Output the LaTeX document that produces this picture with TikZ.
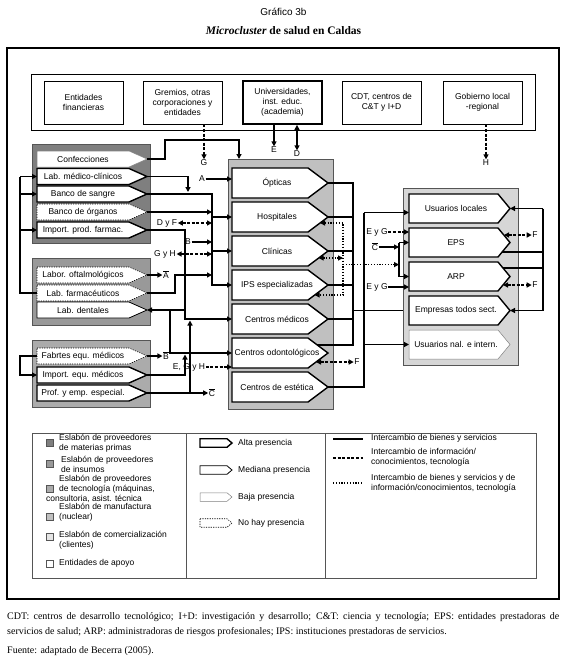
\documentclass[tikz,border=0pt]{standalone}
\usepackage{fontspec}
\setmainfont{Liberation Serif}
\newfontfamily\arial{Liberation Sans}
\usetikzlibrary{arrows.meta,calc}
\definecolor{prima}{HTML}{7F7F7F}
\definecolor{insumo}{HTML}{999999}
\definecolor{tecno}{HTML}{ABABAB}
\definecolor{nuclear}{HTML}{C0C0C0}
\definecolor{comer}{HTML}{D6D6D6}
\definecolor{clara}{HTML}{E4E4E4}
\definecolor{borde}{HTML}{555555}
\tikzset{
  alta/.style={draw=black, fill=white, line width=1.4pt},
  mediana/.style={draw=black, fill=white, line width=0.8pt},
  baja/.style={draw=gray, fill=white, line width=0.5pt},
  nohay/.style={draw=black, fill=white, line width=0.6pt, dash pattern=on 1.2pt off 1.2pt},
  boxtxt/.style={font=\arial\fontsize{8.5}{9.8}\selectfont, inner sep=0pt, align=center},
  lab/.style={font=\arial\fontsize{8.5}{9.8}\selectfont, inner sep=0.5pt},
  grp/.style={draw=borde, line width=0.6pt, anchor=north west, inner sep=0pt, outer sep=0pt},
  apoyo/.style={draw=black, line width=0.6pt, minimum width=79, minimum height=43, boxtxt},
  enlace/.style={line width=1.3pt},
  flow/.style={line width=1.3pt, -{Triangle[length=5pt,width=5pt]}},
  info/.style={line width=1.3pt, dash pattern=on 3pt off 1.6pt},
  mix/.style={line width=1.2pt, dash pattern=on 1.2pt off 1.6pt},
  etip/.style={-{Triangle[length=5pt,width=5pt]}},
  dtip/.style={{Triangle[length=5pt,width=5pt]}-{Triangle[length=5pt,width=5pt]}},
  leyenda/.style={font=\arial\fontsize{8.5}{9.8}\selectfont, anchor=west, align=left, inner sep=0pt},
  cuadro/.style={draw=borde, line width=0.4pt, minimum size=7, inner sep=0pt}
}
% style, name, x, y, width, height, tip, text shift, text
\newcommand{\Eslabon}[9]{%
  \draw[#1] (#3,#4) -- ++(#5-#7,0) -- ++(#7,#6/2) -- ++(-#7,#6/2) -- ++(#7-#5,0) -- cycle;
  \node[inner sep=0pt, outer sep=0pt, minimum width=#5-#7, minimum height=#6] (#2) at (#3+#5/2-#7/2,#4+#6/2) {};
  \node[boxtxt] (#2-txt) at ($(#2)+(#8,0)$) {#9};
  \coordinate (#2-tip) at (#3+#5,#4+#6/2);
}
\newcommand{\barra}[1]{$\overline{\mbox{#1}}$}

\begin{document}
\begin{tikzpicture}[x=1pt,y=-1pt]
  \useasboundingbox (0,0) rectangle (567,661);

  \node[font=\arial\fontsize{10}{12}\selectfont] (titulo) at (283.5,12) {Gráfico 3b};
  \node[font=\bfseries\fontsize{11.5}{13}\selectfont] (subtitulo) at (283.5,31) {\textit{Microcluster} de salud en Caldas};
  \draw[line width=1.3pt] (7,48) rectangle (559,599);

  % entidades de apoyo
  \node[grp, draw=black, minimum width=504, minimum height=56] (apoyo) at (31,74) {};
  \node[apoyo] (finan) at (83.5,102.5) {Entidades\\financieras};
  \node[apoyo] (gremios) at (182.5,102.5) {Gremios, otras\\corporaciones y\\entidades};
  \node[apoyo, line width=1.8pt] (univ) at (282.5,102.5) {Universidades,\\inst. educ.\\(academia)};
  \node[apoyo] (cdt) at (381.5,102.5) {CDT, centros de\\C\&T y I+D};
  \node[apoyo] (gob) at (482.5,102.5) {Gobierno local\\-regional};

  % eslabones
  \node[grp, fill=prima, minimum width=118, minimum height=99] (prov1) at (32,144) {};
  \node[grp, fill=insumo, minimum width=118, minimum height=67] (prov2) at (32,258) {};
  \node[grp, fill=tecno, minimum width=118, minimum height=67] (prov3) at (32,340) {};
  \node[grp, fill=nuclear, minimum width=105, minimum height=250] (nucleo) at (228,159) {};
  \node[grp, fill=comer, minimum width=115, minimum height=177] (clientes) at (403,188) {};

  \Eslabon{baja}{conf}{37}{151}{110}{16}{18}{0}{Confecciones}
  \Eslabon{alta}{lmc}{37}{168.5}{110}{16}{18}{0}{Lab. médico-clínicos}
  \Eslabon{alta}{bsan}{37}{186}{110}{16}{18}{0}{Banco de sangre}
  \Eslabon{nohay}{borg}{37}{204}{110}{16}{18}{0}{Banco de órganos}
  \Eslabon{alta}{ipf}{37}{222}{110}{16}{18}{0}{Import. prod. farmac.}
  \Eslabon{nohay}{loft}{37}{267}{110}{16}{18}{0}{Labor. oftalmológicos}
  \Eslabon{nohay}{lfar}{37}{285}{110}{16}{18}{0}{Lab. farmacéuticos}
  \Eslabon{mediana}{ldent}{37}{302}{110}{16}{18}{0}{Lab. dentales}
  \Eslabon{nohay}{fab}{37}{348}{110}{16}{18}{0}{Fabrtes equ. médicos}
  \Eslabon{alta}{iem}{37}{367}{110}{16}{18}{0}{Import. equ. médicos}
  \Eslabon{alta}{prof}{37}{385}{110}{16}{18}{0}{Prof. y emp. especial.}

  \Eslabon{alta}{opt}{232}{168}{96}{30}{20}{7}{Ópticas}
  \Eslabon{alta}{hosp}{232}{202}{96}{30}{20}{7}{Hospitales}
  \Eslabon{alta}{clin}{232}{236}{96}{30}{20}{7}{Clínicas}
  \Eslabon{alta}{ips}{232}{270}{96}{30}{20}{7}{IPS especializadas}
  \Eslabon{alta}{cmed}{232}{304}{96}{30}{20}{7}{Centros médicos}
  \Eslabon{alta}{odont}{232}{338}{96}{30}{20}{7}{Centros odontológicos}
  \Eslabon{alta}{est}{232}{372}{96}{30}{20}{7}{Centros de estética}

  \Eslabon{alta}{uloc}{409}{194}{101}{29}{12}{2.5}{Usuarios locales}
  \Eslabon{alta}{eps}{409}{228}{101}{29}{12}{2.5}{EPS}
  \Eslabon{alta}{arp}{409}{262}{101}{29}{12}{2.5}{ARP}
  \Eslabon{alta}{emp}{409}{296}{101}{29}{12}{2.5}{Empresas todos sect.}
  \Eslabon{baja}{unal}{409}{330}{101}{29}{12}{2.5}{Usuarios nal. e intern.}

  % vertical runs
  \coordinate (xL) at (20,0);
  \coordinate (xD) at (170,0);
  \coordinate (xF) at (175,0);
  \coordinate (xP) at (185,0);
  \coordinate (xE) at (190,0);
  \coordinate (xS) at (212,0);
  \coordinate (xO) at (343,0);
  \coordinate (xM) at (353,0);
  \coordinate (xT) at (364,0);
  \coordinate (xK) at (399,0);
  \coordinate (xR) at (543,0);

  % arriba
  \node[lab] (G) at (204,163) {G};
  \node[lab] (E) at (274,150) {E};
  \node[lab] (D) at (297,154) {D};
  \node[lab] (H) at (486,163) {H};
  \draw[info,etip] (gremios.south -| G.north) -- (G.north);
  \draw[flow] (univ.south -| E.north) -- (E.north);
  \draw[enlace,dtip] (univ.south -| D.north) -- (D.north);
  \draw[info,etip] (gob.south -| H.north) -- (H.north);

  % proveedores
  \coordinate (cin) at (239,140);
  \draw[flow] (conf-tip) -- ++(18,0) |- (cin) -- (cin |- nucleo.north);
  \coordinate (j1) at (188,192);
  \draw[flow] (lmc-tip) -| (j1);
  \node[lab] (A) at (202,179) {A};
  \draw[flow] (A.east) -- (opt.west |- A.east);
  \draw[flow] (bsan-tip) -| (xS |- ips.west) -- (ips.west);
  \draw[flow] (xS |- hosp.west) -- (hosp.west);
  \draw[flow] (xS |- clin.west) -- (clin.west);
  \draw[flow] (borg-tip) -- (xS |- borg-tip);
  \node[lab] (DyF) at (167,223) {D y F};
  \draw[info,dtip] (DyF.east) -- (xS |- DyF.east);
  \node[lab] (B) at (188,242) {B};
  \draw[flow] (B.east) -- (xS |- B.east);
  \node[lab] (GyH) at (165,254) {G y H};
  \draw[info,dtip] (GyH.east) -- (xS |- GyH.east);
  \draw[flow] (ipf-tip) -| (xP |- cmed.west) -- (cmed.west);

  \node[lab] (Abar) at (166,275) {\barra{A}};
  \draw[flow] (loft-tip) -- (Abar.west);
  \draw[flow] (lfar-tip) -| (xF |- loft-tip) -- (xS |- loft-tip);
  \draw[enlace] (lfar.west) -| (xL |- lmc.west);
  \foreach \n in {lmc,bsan,ipf} \draw[flow] (xL |- \n.west) -- (\n.west);
  \draw[flow] (xP |- ldent-tip) -- (ldent-tip);
  \draw[flow] (xD |- ldent-tip) |- (odont.west);

  \node[lab] (Bbar) at (166,356) {\barra{B}};
  \draw[flow] (fab-tip) -- (Bbar.west);
  \draw[flow] (fab.west) -- ++(-17,0) |- (iem.west);
  \coordinate (j2) at (185,354.5);
  \draw[flow] (iem-tip) -| (j2);
  \node[lab] (EGH) at (189,367) {E, G y H};
  \draw[info,etip] (EGH.east) -- (odont.west |- EGH.east);
  \node[lab] (Cbar) at (212,393) {\barra{C}};
  \draw[flow] (prof-tip) -- (Cbar.west);
  \coordinate (j3) at (190,320.5);
  \draw[flow] (xE |- prof-tip) -- (j3);

  % nucleo hacia clientes
  \coordinate (oo) at ($(odont-tip)+(-10.7,-8)$);
  \draw[enlace] (opt-tip) -| (xM |- oo) -- (oo);
  \foreach \n in {hosp,clin,ips,cmed} \draw[enlace] (\n-tip) -- (xM |- \n-tip);
  \draw[enlace] (xM |- emp.west) -- (clientes.west |- emp.west);
  \coordinate (uin) at ($(uloc.west)+(0,4)$);
  \draw[enlace] (est-tip) -| (xT |- uin);
  \draw[flow] (xT |- uin) -- (uin);
  \draw[flow] (xT |- unal.west) -- (unal.west);
  \node[lab] (F3) at (357,362) {F};
  \draw[info,dtip] ($(odont-tip)+(-12,9)$) -- (F3.west);

  \coordinate (dh) at ($(hosp-tip)+(-8,6)$);
  \coordinate (dc) at ($(clin-tip)+(-9.3,7)$);
  \coordinate (di) at ($(ips-tip)+(-13.3,10)$);
  \coordinate (dm) at ($(eps.west)!.65!(arp.west)$);
  \draw[mix,dtip] (dh) -- (xO |- dh) -- (xO |- di) -- (di);
  \draw[mix,dtip] (dc) -- (xO |- dc);
  \draw[mix,etip] (xO |- dm) -- (xK |- dm);

  % clientes
  \node[lab] (EyG1) at (377,232) {E y G};
  \draw[info,etip] (EyG1.east) -- (eps.west |- EyG1.east);
  \node[lab] (Cbar2) at (375,247) {\barra{C}};
  \draw[flow] (Cbar2.east) -- (xK |- Cbar2.east);
  \node[lab] (EyG2) at (377,287) {E y G};
  \draw[flow] (EyG2.east) -- (arp.west |- EyG2.east);
  \draw[enlace] (xK |- eps.west) -- (xK |- arp.west);
  \draw[flow] (xK |- eps.west) -- (eps.west);
  \draw[flow] (xK |- arp.west) -- (arp.west);

  \coordinate (eo) at ($(eps-tip)+(-7.9,9.5)$);
  \coordinate (ao) at ($(arp-tip)+(-7,-8.5)$);
  \draw[enlace] (eo) -- (xR |- eo);
  \draw[enlace] (ao) -- (xR |- ao);
  \draw[enlace] (xR |- uloc-tip) -- (xR |- emp-tip);
  \draw[flow] (xR |- uloc-tip) -- (uloc-tip);
  \draw[flow] (xR |- emp-tip) -- (emp-tip);
  \node[lab] (F1) at (535,235) {F};
  \draw[info,dtip] ($(eps-tip)+(-6,-7.5)$) -- (F1.west);
  \node[lab] (F2) at (535,285) {F};
  \draw[info,dtip] ($(arp-tip)+(-7,8.5)$) -- (F2.west);

  % leyenda
  \node[grp, minimum width=504, minimum height=145] (ley) at (32,433) {};
  \draw[line width=0.6pt, draw=borde] (186,433) -- (186,578);
  \draw[line width=0.6pt, draw=borde] (325,433) -- (325,578);

  \node[cuadro, fill=prima] (c1) at (49.5,443) {};
  \node[leyenda] (t1) at (59,443) {Eslabón de proveedores\\de materias primas};
  \node[cuadro, fill=insumo] (c2) at (49.5,463.5) {};
  \node[leyenda] (t2) at (61,464.5) {Eslabón de proveedores\\de insumos};
  \node[cuadro, fill=tecno] (c3) at (49.5,489) {};
  \node[leyenda] (t3a) at (59,484.5) {Eslabón de proveedores\\de tecnología (máquinas,};
  \node[leyenda] (t3b) at (46,499) {consultoria, asist. técnica};
  \node[cuadro, fill=nuclear] (c4) at (49.5,516.5) {};
  \node[leyenda] (t4) at (59,512) {Eslabón de manufactura\\(nuclear)};
  \node[cuadro, fill=clara] (c5) at (49.5,536.5) {};
  \node[leyenda] (t5) at (59,540) {Eslabón de comercialización\\(clientes)};
  \node[cuadro, fill=white] (c6) at (49.5,563.5) {};
  \node[leyenda] (t6) at (59,563.5) {Entidades de apoyo};

  \Eslabon{alta}{la}{200}{438.75}{32}{8.5}{5}{0}{}
  \Eslabon{mediana}{lm}{200}{465.75}{32}{8.5}{5}{0}{}
  \Eslabon{baja}{lb}{200}{492.75}{32}{8.5}{5}{0}{}
  \Eslabon{nohay}{ln}{200}{518.75}{32}{8.5}{5}{0}{}
  \node[leyenda] (ta) at (238,443) {Alta presencia};
  \node[leyenda] (tm) at (238,470) {Mediana presencia};
  \node[leyenda] (tb) at (238,497) {Baja presencia};
  \node[leyenda] (tn) at (238,523) {No hay presencia};

  \draw[enlace] (333,439) -- (363,439);
  \draw[info] (333,458) -- (363,458);
  \draw[mix] (333,483) -- (363,483);
  \node[leyenda] (tl1) at (371,438) {Intercambio de bienes y servicios};
  \node[leyenda] (tl2) at (371,457) {Intercambio de información/\\conocimientos, tecnología};
  \node[leyenda] (tl3) at (371,483) {Intercambio de bienes y servicios y de\\información/conocimientos, tecnología};

  % notas
  \node[anchor=west, inner sep=0pt, font=\fontsize{10}{12}\selectfont] (nota1) at (7,617)
    {\makebox[552pt][s]{CDT: centros de desarrollo tecnológico; I+D: investigación y desarrollo; C\&T: ciencia y tecnología; EPS: entidades prestadoras de}};
  \node[anchor=west, inner sep=0pt, font=\fontsize{10}{12}\selectfont] (nota2) at (7,632)
    {servicios de salud; ARP: administradoras de riesgos profesionales; IPS: instituciones prestadoras de servicios.};
  \node[anchor=west, inner sep=0pt, font=\fontsize{10}{12}\selectfont] (fuente) at (7,651) {Fuente: adaptado de Becerra (2005).};
\end{tikzpicture}
\end{document}
